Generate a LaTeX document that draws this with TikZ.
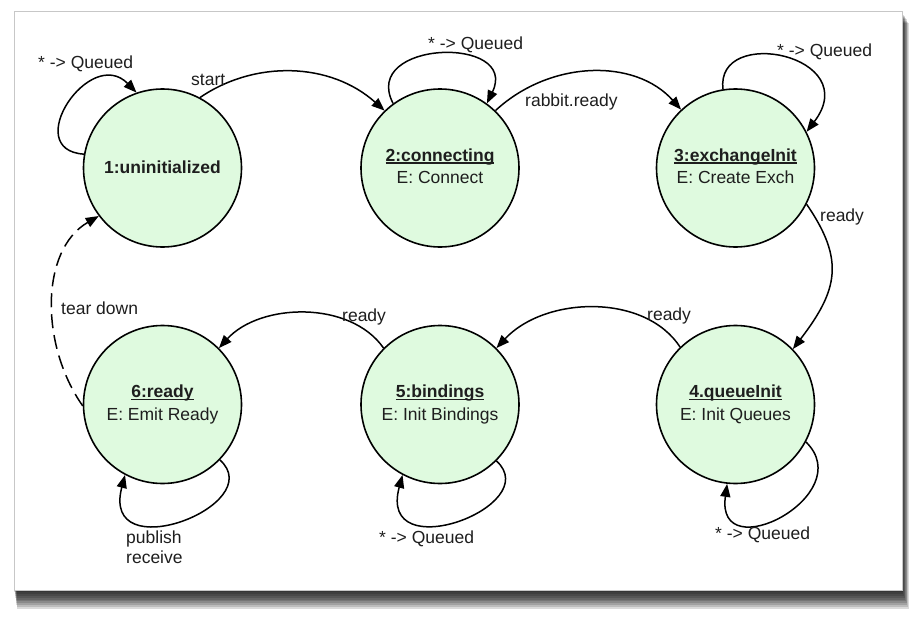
\documentclass[tikz,border=0pt]{standalone}
\usepackage{fontspec}
\setmainfont{Liberation Sans}
\usetikzlibrary{arrows.meta}
\definecolor{stfill}{HTML}{DFFADF}
\definecolor{ink}{HTML}{1E1E1E}
\newsavebox\stulbox
\newcommand\stul[1]{\sbox\stulbox{#1}\rlap{\rule[-2.6pt]{\wd\stulbox}{1.3pt}}\usebox\stulbox}
\begin{document}
\begin{tikzpicture}[x=1pt,y=-1pt,
  font=\fontsize{17.5}{21}\selectfont,
  state/.style={circle, draw=black, line width=1.6pt, minimum size=158pt, inner sep=0pt,
    fill=stfill},
  ttl/.style={anchor=base, inner sep=0pt, text=ink, font=\fontsize{17.5}{21}\selectfont\bfseries},
  sub/.style={anchor=base, inner sep=0pt, text=ink},
  lbl/.style={anchor=base west, inner sep=0pt, text=ink},
  conn/.style={line width=1.5pt, -{Triangle[length=13pt,width=10pt]}},
]
\useasboundingbox (0,0) rectangle (921,626);
\fill[white] (0,0) rectangle (921,626);
% shadow
\foreach \k in {1,...,10} {
  \fill[black, opacity=0.14] (14+0.3*\k, 11+1.2*\k) rectangle (902+0.65*\k, 590+1.9*\k);
}
% card
\fill[white] (14,11) rectangle (902,590);
\draw[black!22, line width=0.6pt] (14,11) rectangle (902,590);

% states
\node[state] (s1) at (162.5,168) {};
\node[state] (s2) at (440,168) {};
\node[state] (s3) at (735.5,168) {};
\node[state] (s4) at (735.5,404.5) {};
\node[state] (s5) at (440,404.5) {};
\node[state] (s6) at (162.5,404.5) {};

\node[ttl] (t1) at (162.5,173) {1:uninitialized};
\node[ttl] (t2) at (440,161) {\stul{2:connecting}};
\node[sub] (e2) at (440,183) {E: Connect};
\node[ttl] (t3) at (735.5,161) {\stul{3:exchangeInit}};
\node[sub] (e3) at (735.5,183) {E: Create Exch};
\node[ttl] (t4) at (735.5,397.5) {\stul{4.queueInit}};
\node[sub] (e4) at (735.5,420) {E: Init Queues};
\node[ttl] (t5) at (440,397.5) {\stul{5:bindings}};
\node[sub] (e5) at (440,420) {E: Init Bindings};
\node[ttl] (t6) at (162.5,397.5) {\stul{6:ready}};
\node[sub] (e6) at (162.5,420) {E: Emit Ready};

% connectors
\draw[conn] (s1.170.6) .. controls (20,150) and (90,45) .. (s1.109.5);
\draw[conn] (s1.62.2) .. controls (255,60) and (330,62) .. (s2.134.5);
\draw[conn] (s2.126) .. controls (360,40) and (520,35) .. (s2.54);
\draw[conn] (s2.46) .. controls (550,60) and (635,58) .. (s3.133.7);
\draw[conn] (s3.99.7) .. controls (715,25) and (865,55) .. (s3.27.7);
\draw[conn] (s3.-27) .. controls (845,260) and (838,290) .. (s4.44);
\draw[conn] (s4.134.5) .. controls (645,293) and (545,296) .. (s5.45.2);
\draw[conn] (s5.135.3) .. controls (350,300) and (260,303) .. (s6.45);
\draw[conn] (s4.-28) .. controls (860,495) and (715,570) .. (s4.-96);
\draw[conn] (s5.-45.7) .. controls (546,506) and (377,569) .. (s5.-118.6);
\draw[conn] (s6.-44.5) .. controls (270,505) and (100,570) .. (s6.-118);
\draw[conn, dash pattern=on 14pt off 7pt] (s6.181) .. controls (40,345) and (40,250) .. (s1.217);

% labels
\node[lbl] (l1) at (38,69) {* -> Queued};
\node[lbl] (l2) at (191,85) {start};
\node[lbl] (l3) at (428,49) {* -> Queued};
\node[lbl] (l4) at (525,106.5) {rabbit.ready};
\node[lbl] (l5) at (777,57) {* -> Queued};
\node[lbl] (l6) at (820,221) {ready};
\node[lbl] (l7) at (647,320.5) {ready};
\node[lbl] (l8) at (342,321.5) {ready};
\node[lbl] (l9) at (61,314) {tear down};
\node[lbl] (l10) at (126,543) {publish};
\node[lbl] (l11) at (126,563.3) {receive};
\node[lbl] (l12) at (379,543) {* -> Queued};
\node[lbl] (l13) at (715,539) {* -> Queued};
\end{tikzpicture}
\end{document}
